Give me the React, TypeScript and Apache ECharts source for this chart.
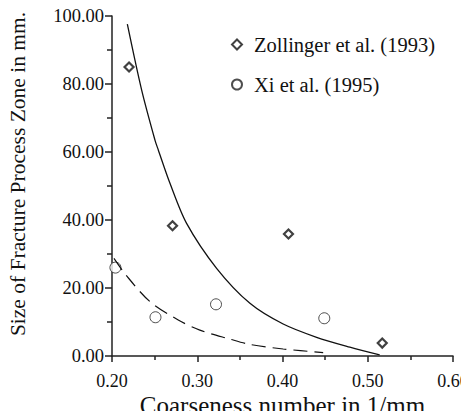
import React, { useEffect, useRef } from "react";
import * as echarts from "echarts";

const zollingerX = [0.22, 0.271, 0.407, 0.517];
const zollingerY = [85, 38.3, 35.9, 3.8];
const xiX = [0.204, 0.251, 0.322, 0.449];
const xiY = [26, 11.4, 15.2, 11.1];
const solidFitX = [0.218, 0.2348, 0.2504, 0.2543, 0.268, 0.2875, 0.3227, 0.3618, 0.4008, 0.44, 0.479, 0.514];
const solidFitY = [97.6, 78.2, 63.5, 60.6, 50.8, 39, 25.8, 15.5, 9.4, 5.5, 2.6, 0.3];
const dashedFitX = [0.2023, 0.2164, 0.2445, 0.2777, 0.303, 0.338, 0.3618, 0.4008, 0.4477];
const dashedFitY = [28.7, 23.8, 16, 10.6, 7.6, 5, 3.4, 2.06, 1];
const xTicks = [0.2, 0.6, 0.1];
const yTicks = [0, 100, 20];

const FONT = "Liberation Serif, Times New Roman, serif";

function zip(xs: number[], ys: number[]) {
  return xs.map((x, i) => [x, ys[i]]);
}

export default function App() {
  const ref = useRef<HTMLDivElement>(null);
  useEffect(() => {
    if (!ref.current) return;
    const chart = echarts.init(ref.current, null, { renderer: "svg" });
    chart.setOption({
      animation: false,
      backgroundColor: "#fff",
      textStyle: { fontFamily: FONT },
      grid: { left: 112, right: 16, top: 16, bottom: 63, containLabel: false, outerBoundsMode: "none" },
      legend: {
        data: [
          { name: "Zollinger et al. (1993)", icon: "diamond" },
          { name: "Xi et al. (1995)", icon: "circle" },
        ],
        orient: "vertical",
        left: 226,
        top: 29,
        itemGap: 19,
        itemWidth: 10,
        itemHeight: 10,
        textStyle: { fontFamily: FONT, fontSize: 20.5, color: "#111", padding: [0, 0, 0, 7] },
      },
      xAxis: {
        type: "value",
        min: xTicks[0],
        max: xTicks[1],
        interval: xTicks[2],
        name: "Coarseness number in 1/mm",
        nameLocation: "middle",
        nameGap: 37,
        nameMoveOverlap: false,
        nameTextStyle: { fontFamily: FONT, fontSize: 25, color: "#111" },
        axisLine: { lineStyle: { color: "#222", width: 1.5 } },
        axisTick: { show: true, length: 6, lineStyle: { color: "#222", width: 1.5 } },
        minorTick: { show: true, splitNumber: 2, length: 4, lineStyle: { color: "#222", width: 1.5 } },
        splitLine: { show: false },
        axisLabel: {
          fontFamily: FONT,
          fontSize: 18,
          color: "#111",
          margin: 16,
          formatter: (v: number) => v.toFixed(2),
        },
      },
      yAxis: {
        type: "value",
        min: yTicks[0],
        max: yTicks[1],
        interval: yTicks[2],
        name: "Size of Fracture Process Zone in mm.",
        nameLocation: "middle",
        nameGap: 83,
        nameMoveOverlap: false,
        nameTextStyle: { fontFamily: FONT, fontSize: 21.5, color: "#111", padding: [0, 0, 0, 24] },
        axisLine: { show: true, lineStyle: { color: "#222", width: 1.5 } },
        axisTick: { show: true, length: 7, lineStyle: { color: "#222", width: 1.5 } },
        minorTick: { show: true, splitNumber: 2, length: 5, lineStyle: { color: "#222", width: 1.5 } },
        splitLine: { show: false },
        axisLabel: {
          fontFamily: FONT,
          fontSize: 18.5,
          color: "#111",
          margin: 8,
          formatter: (v: number) => v.toFixed(2),
        },
      },
      series: [
        {
          name: "solid fit",
          type: "line",
          data: zip(solidFitX, solidFitY),
          smooth: 0.3,
          symbol: "none",
          lineStyle: { color: "#111", width: 1.3 },
          silent: true,
        },
        {
          name: "dashed fit",
          type: "line",
          data: zip(dashedFitX, dashedFitY),
          smooth: 0.3,
          symbol: "none",
          lineStyle: { color: "#111", width: 1.2, type: [14, 7] },
          silent: true,
        },
        {
          name: "Zollinger et al. (1993)",
          type: "scatter",
          data: zip(zollingerX, zollingerY),
          symbol: "diamond",
          symbolSize: 9,
          itemStyle: { color: "#fff", borderColor: "#111", borderWidth: 2.2 },
        },
        {
          name: "Xi et al. (1995)",
          type: "scatter",
          data: zip(xiX, xiY),
          symbol: "circle",
          symbolSize: 11,
          itemStyle: { color: "#fff", borderColor: "#222", borderWidth: 1 },
        },
      ],
    });
    return () => chart.dispose();
  }, []);
  return <div ref={ref} style={{ width: 469, height: 419, margin: -8 }} />;
}
